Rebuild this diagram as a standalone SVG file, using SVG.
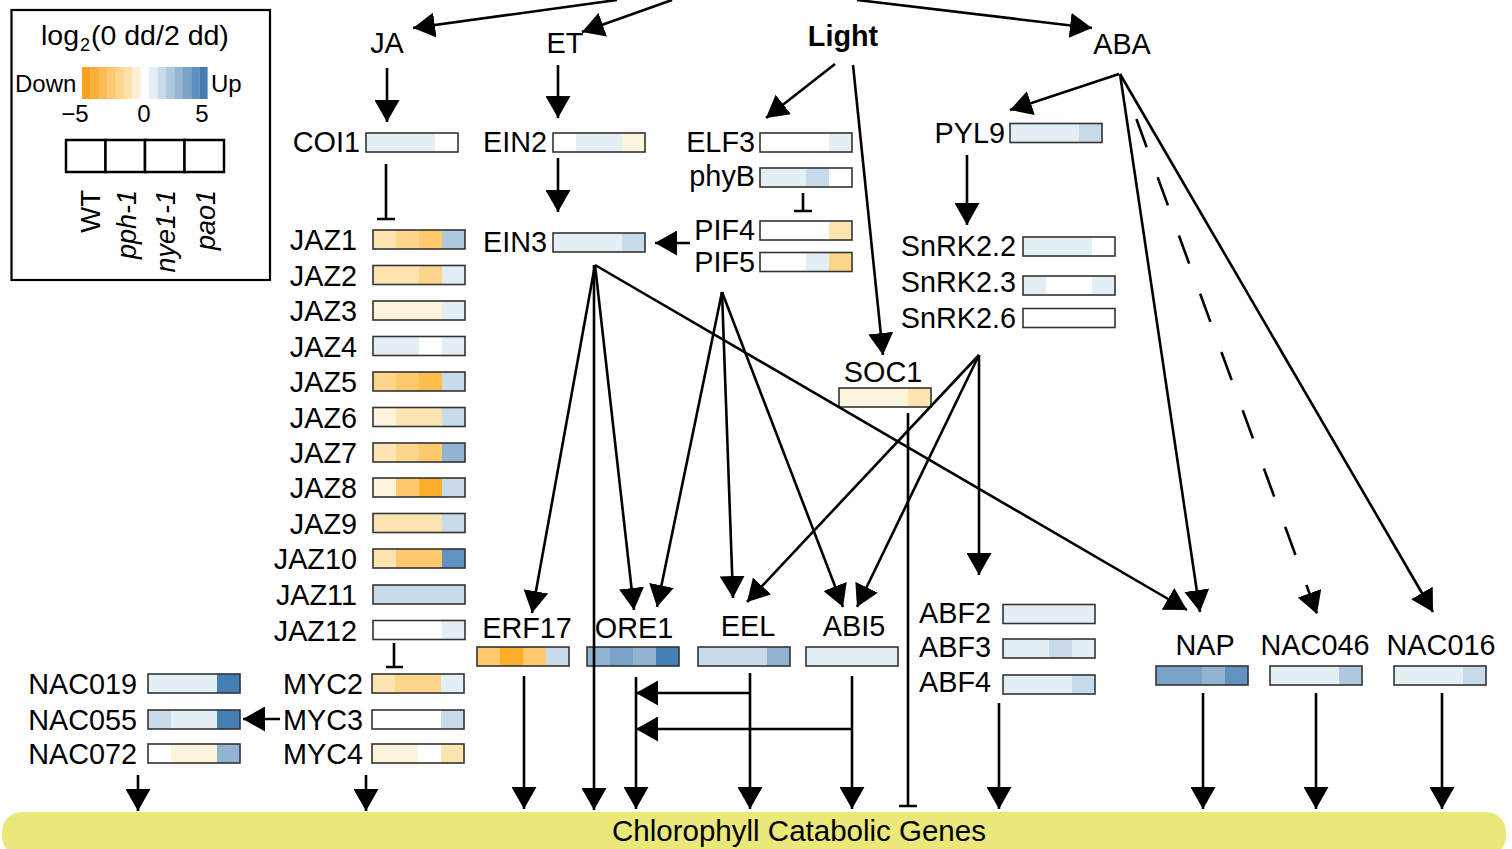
<svg xmlns="http://www.w3.org/2000/svg" width="1512" height="849" viewBox="0 0 1512 849">
<style>
text{font-family:"Liberation Sans",Arial,sans-serif;fill:#000}
.l{font-size:28.8px}
.e{text-anchor:end}
.m{text-anchor:middle}
.lg{font-size:24px}
.it{font-style:italic;font-size:27px}
.bar{fill:none;stroke:#333;stroke-width:1.6}
.w{fill:#fff}.o0{fill:#FDF4DC}.o1{fill:#FDE4B1}.o2{fill:#FDD68B}.o3{fill:#FDC96C}.o4{fill:#FDBE50}.o5{fill:#FDAF2A}
.b0{fill:#E3EEF5}.b1{fill:#C7DBEA}.b2{fill:#AEC8DE}.b3{fill:#93B3D3}.b4{fill:#7AA3C9}.b5{fill:#6293C0}.b6{fill:#447FB3}
.c{fill:none;stroke:#000;stroke-width:2.6}
.a{marker-end:url(#ah)}
.d{stroke-dasharray:30 32}
</style>
<defs>
<marker id="ah" viewBox="0 0 22 25" refX="22" refY="12.5" markerWidth="22" markerHeight="25" markerUnits="userSpaceOnUse" orient="auto">
<path d="M0,0 L22,12.5 L0,25 Z" fill="#000"/>
</marker>
</defs>

<!-- band -->
<g id="band">
<rect x="2" y="812" width="1504" height="44" rx="20" fill="#E9E879"/>
<text x="799" y="841" text-anchor="middle" style="font-size:29.5px">Chlorophyll Catabolic Genes</text>
</g>

<!-- legend -->
<g id="legend">
<rect x="11.5" y="10" width="258.5" height="270" fill="none" stroke="#000" stroke-width="2.2"/>
<text x="41" y="45" style="font-size:28.5px">log<tspan x="80" dy="6" style="font-size:18px">2</tspan><tspan x="91" dy="-6">(0 dd/2 dd)</tspan></text>
<g>
<rect x="82" y="67" width="8.6" height="32" fill="#FAA21D"/>
<rect x="90.4" y="67" width="8.6" height="32" fill="#FBAF38"/>
<rect x="98.8" y="67" width="8.6" height="32" fill="#FCBC55"/>
<rect x="107.2" y="67" width="8.6" height="32" fill="#FDC870"/>
<rect x="115.6" y="67" width="8.6" height="32" fill="#FDD58C"/>
<rect x="124" y="67" width="8.6" height="32" fill="#FDE2AA"/>
<rect x="132.4" y="67" width="8.6" height="32" fill="#FEF0D4"/>
<rect x="140.8" y="67" width="8.6" height="32" fill="#FFFFFF"/>
<rect x="149.2" y="67" width="8.6" height="32" fill="#E3EDF5"/>
<rect x="157.6" y="67" width="8.6" height="32" fill="#C9DBEA"/>
<rect x="166" y="67" width="8.6" height="32" fill="#AFC9DF"/>
<rect x="174.4" y="67" width="8.6" height="32" fill="#95B5D4"/>
<rect x="182.8" y="67" width="8.6" height="32" fill="#7AA2C9"/>
<rect x="191.2" y="67" width="8.6" height="32" fill="#608FBE"/>
<rect x="199.6" y="67" width="8" height="32" fill="#467CB3"/>
</g>
<text class="lg" x="15" y="92">Down</text>
<text class="lg" x="211" y="92">Up</text>
<text class="lg m" x="75" y="122">−5</text>
<text class="lg m" x="144" y="122">0</text>
<text class="lg m" x="202" y="122">5</text>
<g fill="#fff" stroke="#000" stroke-width="2.5">
<rect x="66" y="140" width="39.5" height="32"/>
<rect x="105.5" y="140" width="39.5" height="32"/>
<rect x="145" y="140" width="39.5" height="32"/>
<rect x="184.5" y="140" width="39.5" height="32"/>
</g>
<text class="e" style="font-size:27.5px" transform="translate(100,190) rotate(-90)">WT</text>
<text class="it e" transform="translate(136,190) rotate(-90)">pph-1</text>
<text class="it e" transform="translate(175,190) rotate(-90)">nye1-1</text>
<text class="it e" transform="translate(215,190) rotate(-90)">pao1</text>
</g>

<!-- top-level signals -->
<g id="JA"><text class="l m" x="387" y="53">JA</text></g>
<g id="ET"><text class="l m" x="565" y="53">ET</text></g>
<g id="Light"><text class="l m" x="843" y="46" font-weight="bold">Light</text></g>
<g id="ABA"><text class="l m" x="1122" y="54">ABA</text></g>

<!-- nodes with bars: label left -->
<g id="COI1" transform="translate(366,133)"><text class="l e" x="-6" y="19">COI1</text><rect class="b0" width="23" height="19"/><rect class="b0" x="23" width="23" height="19"/><rect class="b0" x="46" width="23" height="19"/><rect class="w" x="69" width="23" height="19"/><rect class="bar" width="92" height="19"/></g>
<g id="EIN2" transform="translate(553,133)"><text class="l e" x="-6" y="19">EIN2</text><rect class="w" width="23" height="19"/><rect class="b0" x="23" width="23" height="19"/><rect class="b0" x="46" width="23" height="19"/><rect class="o0" x="69" width="23" height="19"/><rect class="bar" width="92" height="19"/></g>
<g id="EIN3" transform="translate(553,233)"><text class="l e" x="-6" y="19">EIN3</text><rect class="b0" width="23" height="19"/><rect class="b0" x="23" width="23" height="19"/><rect class="b0" x="46" width="23" height="19"/><rect class="b1" x="69" width="23" height="19"/><rect class="bar" width="92" height="19"/></g>
<g id="ELF3" transform="translate(760,133)"><text class="l e" x="-5" y="19">ELF3</text><rect class="w" width="23" height="19"/><rect class="w" x="23" width="23" height="19"/><rect class="w" x="46" width="23" height="19"/><rect class="b0" x="69" width="23" height="19"/><rect class="bar" width="92" height="19"/></g>
<g id="phyB" transform="translate(760,168)"><text class="l e" x="-5" y="18">phyB</text><rect class="b0" width="23" height="19"/><rect class="b0" x="23" width="23" height="19"/><rect class="b1" x="46" width="23" height="19"/><rect class="w" x="69" width="23" height="19"/><rect class="bar" width="92" height="19"/></g>
<g id="PIF4" transform="translate(760,221)"><text class="l e" x="-5" y="18.5">PIF4</text><rect class="w" width="23" height="19"/><rect class="w" x="23" width="23" height="19"/><rect class="w" x="46" width="23" height="19"/><rect class="o1" x="69" width="23" height="19"/><rect class="bar" width="92" height="19"/></g>
<g id="PIF5" transform="translate(760,252.5)"><text class="l e" x="-5" y="19">PIF5</text><rect class="w" width="23" height="19"/><rect class="w" x="23" width="23" height="19"/><rect class="b0" x="46" width="23" height="19"/><rect class="o2" x="69" width="23" height="19"/><rect class="bar" width="92" height="19"/></g>
<g id="PYL9" transform="translate(1010,123.5)"><text class="l e" x="-5" y="19.5">PYL9</text><rect class="b0" width="23" height="19"/><rect class="b0" x="23" width="23" height="19"/><rect class="b0" x="46" width="23" height="19"/><rect class="b1" x="69" width="23" height="19"/><rect class="bar" width="92" height="19"/></g>
<g id="SnRK2.2" transform="translate(1023,237)"><text class="l e" x="-7" y="19">SnRK2.2</text><rect class="b0" width="23" height="19"/><rect class="b0" x="23" width="23" height="19"/><rect class="b0" x="46" width="23" height="19"/><rect class="w" x="69" width="23" height="19"/><rect class="bar" width="92" height="19"/></g>
<g id="SnRK2.3" transform="translate(1023,276)"><text class="l e" x="-7" y="16">SnRK2.3</text><rect class="b0" width="23" height="19"/><rect class="w" x="23" width="23" height="19"/><rect class="w" x="46" width="23" height="19"/><rect class="b0" x="69" width="23" height="19"/><rect class="bar" width="92" height="19"/></g>
<g id="SnRK2.6" transform="translate(1023,308.5)"><text class="l e" x="-7" y="19">SnRK2.6</text><rect class="w" width="92" height="19"/><rect class="bar" width="92" height="19"/></g>

<g id="JAZ1" transform="translate(373,230)"><text class="l e" x="-16" y="20">JAZ1</text><rect class="o1" width="23" height="19"/><rect class="o2" x="23" width="23" height="19"/><rect class="o3" x="46" width="23" height="19"/><rect class="b2" x="69" width="23" height="19"/><rect class="bar" width="92" height="19"/></g>
<g id="JAZ2" transform="translate(373,265.5)"><text class="l e" x="-16" y="20">JAZ2</text><rect class="o1" width="23" height="19"/><rect class="o1" x="23" width="23" height="19"/><rect class="o2" x="46" width="23" height="19"/><rect class="b0" x="69" width="23" height="19"/><rect class="bar" width="92" height="19"/></g>
<g id="JAZ3" transform="translate(373,301)"><text class="l e" x="-16" y="20">JAZ3</text><rect class="o0" width="23" height="19"/><rect class="o0" x="23" width="23" height="19"/><rect class="o0" x="46" width="23" height="19"/><rect class="b0" x="69" width="23" height="19"/><rect class="bar" width="92" height="19"/></g>
<g id="JAZ4" transform="translate(373,336.5)"><text class="l e" x="-16" y="20">JAZ4</text><rect class="b0" width="23" height="19"/><rect class="b0" x="23" width="23" height="19"/><rect class="w" x="46" width="23" height="19"/><rect class="b0" x="69" width="23" height="19"/><rect class="bar" width="92" height="19"/></g>
<g id="JAZ5" transform="translate(373,372)"><text class="l e" x="-16" y="20">JAZ5</text><rect class="o2" width="23" height="19"/><rect class="o3" x="23" width="23" height="19"/><rect class="o4" x="46" width="23" height="19"/><rect class="b1" x="69" width="23" height="19"/><rect class="bar" width="92" height="19"/></g>
<g id="JAZ6" transform="translate(373,407.5)"><text class="l e" x="-16" y="20">JAZ6</text><rect class="o0" width="23" height="19"/><rect class="o1" x="23" width="23" height="19"/><rect class="o1" x="46" width="23" height="19"/><rect class="b1" x="69" width="23" height="19"/><rect class="bar" width="92" height="19"/></g>
<g id="JAZ7" transform="translate(373,443)"><text class="l e" x="-16" y="20">JAZ7</text><rect class="o1" width="23" height="19"/><rect class="o2" x="23" width="23" height="19"/><rect class="o3" x="46" width="23" height="19"/><rect class="b3" x="69" width="23" height="19"/><rect class="bar" width="92" height="19"/></g>
<g id="JAZ8" transform="translate(373,478)"><text class="l e" x="-16" y="20">JAZ8</text><rect class="o0" width="23" height="19"/><rect class="o3" x="23" width="23" height="19"/><rect class="o5" x="46" width="23" height="19"/><rect class="b1" x="69" width="23" height="19"/><rect class="bar" width="92" height="19"/></g>
<g id="JAZ9" transform="translate(373,513.5)"><text class="l e" x="-16" y="20">JAZ9</text><rect class="o1" width="23" height="19"/><rect class="o1" x="23" width="23" height="19"/><rect class="o1" x="46" width="23" height="19"/><rect class="b1" x="69" width="23" height="19"/><rect class="bar" width="92" height="19"/></g>
<g id="JAZ10" transform="translate(373,549)"><text class="l e" x="-16" y="20">JAZ10</text><rect class="o1" width="23" height="19"/><rect class="o3" x="23" width="23" height="19"/><rect class="o3" x="46" width="23" height="19"/><rect class="b5" x="69" width="23" height="19"/><rect class="bar" width="92" height="19"/></g>
<g id="JAZ11" transform="translate(373,585)"><text class="l e" x="-16" y="20">JAZ11</text><rect class="b1" width="92" height="19"/><rect class="bar" width="92" height="19"/></g>
<g id="JAZ12" transform="translate(373,620.5)"><text class="l e" x="-16" y="20">JAZ12</text><rect class="w" width="69" height="19"/><rect class="b0" x="69" width="23" height="19"/><rect class="bar" width="92" height="19"/></g>

<g id="MYC2" transform="translate(372,674)"><text class="l e" x="-9" y="20">MYC2</text><rect class="o1" width="23" height="19"/><rect class="o2" x="23" width="23" height="19"/><rect class="o2" x="46" width="23" height="19"/><rect class="b0" x="69" width="23" height="19"/><rect class="bar" width="92" height="19"/></g>
<g id="MYC3" transform="translate(372,710)"><text class="l e" x="-9" y="20">MYC3</text><rect class="w" width="69" height="19"/><rect class="b1" x="69" width="23" height="19"/><rect class="bar" width="92" height="19"/></g>
<g id="MYC4" transform="translate(372,744)"><text class="l e" x="-9" y="20">MYC4</text><rect class="o0" width="23" height="19"/><rect class="o0" x="23" width="23" height="19"/><rect class="w" x="46" width="23" height="19"/><rect class="o1" x="69" width="23" height="19"/><rect class="bar" width="92" height="19"/></g>

<g id="NAC019" transform="translate(148,674)"><text class="l e" x="-11" y="20">NAC019</text><rect class="b0" width="69" height="19"/><rect class="b6" x="69" width="23" height="19"/><rect class="bar" width="92" height="19"/></g>
<g id="NAC055" transform="translate(148,710)"><text class="l e" x="-11" y="20">NAC055</text><rect class="b1" width="23" height="19"/><rect class="b0" x="23" width="46" height="19"/><rect class="b6" x="69" width="23" height="19"/><rect class="bar" width="92" height="19"/></g>
<g id="NAC072" transform="translate(148,744)"><text class="l e" x="-11" y="20">NAC072</text><rect class="w" width="23" height="19"/><rect class="o0" x="23" width="46" height="19"/><rect class="b3" x="69" width="23" height="19"/><rect class="bar" width="92" height="19"/></g>

<g id="ABF2" transform="translate(1003,604.5)"><text class="l e" x="-12" y="18">ABF2</text><rect class="b0" width="92" height="19"/><rect class="bar" width="92" height="19"/></g>
<g id="ABF3" transform="translate(1003,639)"><text class="l e" x="-12" y="18">ABF3</text><rect class="b0" width="46" height="19"/><rect class="b1" x="46" width="23" height="19"/><rect class="b0" x="69" width="23" height="19"/><rect class="bar" width="92" height="19"/></g>
<g id="ABF4" transform="translate(1003,675)"><text class="l e" x="-12" y="17">ABF4</text><rect class="b0" width="69" height="19"/><rect class="b1" x="69" width="23" height="19"/><rect class="bar" width="92" height="19"/></g>

<!-- nodes with labels above -->
<g id="SOC1" transform="translate(839,388)"><text class="l m" x="44" y="-6">SOC1</text><rect class="o0" width="69" height="19"/><rect class="o1" x="69" width="23" height="19"/><rect class="bar" width="92" height="19"/></g>
<g id="ERF17" transform="translate(477,647)"><text class="l m" x="50" y="-9">ERF17</text><rect class="o3" width="23" height="19"/><rect class="o5" x="23" width="23" height="19"/><rect class="o3" x="46" width="23" height="19"/><rect class="b1" x="69" width="23" height="19"/><rect class="bar" width="92" height="19"/></g>
<g id="ORE1" transform="translate(587,647)"><text class="l m" x="47" y="-9">ORE1</text><rect class="b3" width="23" height="19"/><rect class="b4" x="23" width="23" height="19"/><rect class="b3" x="46" width="23" height="19"/><rect class="b6" x="69" width="23" height="19"/><rect class="bar" width="92" height="19"/></g>
<g id="EEL" transform="translate(698,647)"><text class="l m" x="50" y="-11">EEL</text><rect class="b1" width="69" height="19"/><rect class="b3" x="69" width="23" height="19"/><rect class="bar" width="92" height="19"/></g>
<g id="ABI5" transform="translate(806,647)"><text class="l m" x="48" y="-11">ABI5</text><rect class="b0" width="92" height="19"/><rect class="bar" width="92" height="19"/></g>
<g id="NAP" transform="translate(1156,666)"><text class="l m" x="49" y="-11">NAP</text><rect class="b4" width="46" height="19"/><rect class="b3" x="46" width="23" height="19"/><rect class="b5" x="69" width="23" height="19"/><rect class="bar" width="92" height="19"/></g>
<g id="NAC046" transform="translate(1270,666)"><text class="l m" x="45" y="-11">NAC046</text><rect class="b0" width="69" height="19"/><rect class="b2" x="69" width="23" height="19"/><rect class="bar" width="92" height="19"/></g>
<g id="NAC016" transform="translate(1394,666)"><text class="l m" x="47" y="-11">NAC016</text><rect class="b0" width="69" height="19"/><rect class="b1" x="69" width="23" height="19"/><rect class="bar" width="92" height="19"/></g>

<!-- connectors -->
<g id="connectors" class="c">
<path class="a" d="M617,0 L413,28"/>
<path class="a" d="M672,0 L582,32"/>
<path class="a" d="M857,0 L1092,28"/>
<path class="a" d="M387,68 V122"/>
<path class="a" d="M558,65 V118"/>
<path d="M386,164 V219 M377,219 H395"/>
<path class="a" d="M558,158 V212"/>
<path class="a" d="M690,243 H655"/>
<path class="a" d="M835,64 L766,118"/>
<path class="a" d="M853,65 L883,355"/>
<path d="M803,193 V211 M794,211 H812"/>
<path class="a" d="M1119,74 L1010,110"/>
<path class="a" d="M967,155 V225"/>
<path class="a" d="M1120,74 L1200,612"/>
<path class="a d" d="M1136.4,119 L1317,614"/>
<path class="a" d="M1120,74 L1433,612"/>
<path class="a" d="M595,265 L532,613"/>
<path class="a" d="M595,265 L634,610"/>
<path class="a" d="M594,265 V810"/>
<path class="a" d="M595,265 L1187,610"/>
<path class="a" d="M722,292 L657,607"/>
<path class="a" d="M722,292 L733,598"/>
<path class="a" d="M722,292 L843,607"/>
<path class="a" d="M979,355 L747,602"/>
<path class="a" d="M979,355 L857,607"/>
<path class="a" d="M979,355 V575"/>
<path d="M908,413 V806 M899,806 H917"/>
<path class="a" d="M524,676 V809"/>
<path class="a" d="M636,677 V809"/>
<path class="a" d="M750,673 V809"/>
<path class="a" d="M852,676 V809"/>
<path class="a" d="M750,693 H636"/>
<path class="a" d="M852,729 H636"/>
<path class="a" d="M999,703 V809"/>
<path class="a" d="M1203,693 V809"/>
<path class="a" d="M1316,693 V809"/>
<path class="a" d="M1442,693 V809"/>
<path d="M394,643 V667 M386,667 H403"/>
<path class="a" d="M280,719 H243"/>
<path class="a" d="M138,775 V811"/>
<path class="a" d="M366,775 V811"/>
</g>
</svg>
